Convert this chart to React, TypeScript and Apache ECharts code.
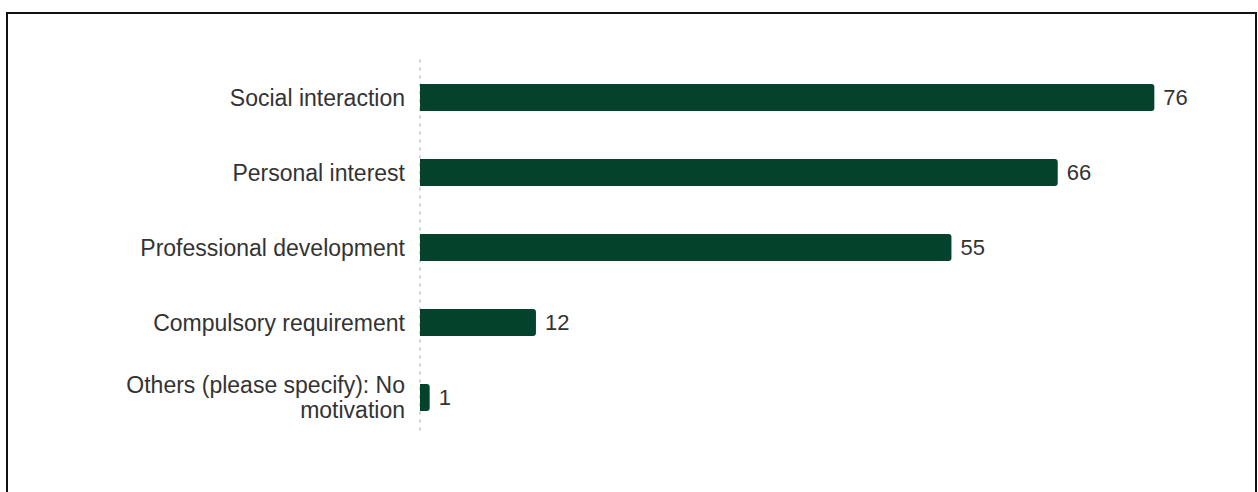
import React, { useEffect, useRef } from "react";
import * as echarts from "echarts";

const categories: string[] = [
  "Social interaction",
  "Personal interest",
  "Professional development",
  "Compulsory requirement",
  "Others (please specify): No motivation",
];
const counts: number[] = [76, 66, 55, 12, 1];

const BAR_COLOR = "#05422b";
const TEXT_COLOR = "#333333";
const FONT = "'Liberation Sans', Arial, Helvetica, sans-serif";
const WRAP_CHARS = 28;

function wrapLabel(text: string): string {
  const words = text.split(" ");
  const lines: string[] = [];
  let cur = "";
  for (const w of words) {
    const next = cur ? cur + " " + w : w;
    if (next.length > WRAP_CHARS && cur) {
      lines.push(cur);
      cur = w;
    } else {
      cur = next;
    }
  }
  if (cur) lines.push(cur);
  return lines.join("\n");
}

export default function App() {
  const ref = useRef<HTMLDivElement>(null);

  useEffect(() => {
    if (!ref.current) return;
    const chart = echarts.init(ref.current, undefined, { renderer: "svg" });
    chart.setOption({
      animation: false,
      backgroundColor: "transparent",
      textStyle: { fontFamily: FONT },
      grid: { left: 420, top: 60, width: 773, height: 375, containLabel: false },
      xAxis: {
        type: "value",
        min: 0,
        max: 80,
        show: false,
        splitLine: { show: false },
      },
      yAxis: {
        type: "category",
        inverse: true,
        data: categories,
        axisTick: { show: false },
        axisLine: {
          show: true,
          lineStyle: { color: "#d6d6d6", type: [2, 6], width: 2 },
        },
        axisLabel: {
          color: TEXT_COLOR,
          fontSize: 23,
          fontFamily: FONT,
          margin: 15,
          lineHeight: 25,
          align: "right",
          formatter: (v: string) => wrapLabel(v),
        },
        splitLine: { show: false },
      },
      series: [
        {
          type: "bar",
          data: counts,
          barWidth: 27,
          itemStyle: { color: BAR_COLOR, borderRadius: [0, 3, 3, 0] },
          label: {
            show: true,
            position: "right",
            distance: 9,
            color: TEXT_COLOR,
            fontSize: 22,
            fontFamily: FONT,
          },
        },
      ],
    });
    return () => chart.dispose();
  }, []);

  return (
    <div
      style={{
        position: "fixed",
        left: 0,
        top: 0,
        width: 1258,
        height: 492,
        background: "#ffffff",
        overflow: "hidden",
      }}
    >
      <div
        style={{
          position: "absolute",
          left: 6,
          top: 12,
          width: 1251,
          height: 520,
          border: "2px solid #111111",
          boxSizing: "border-box",
        }}
      />
      <div
        ref={ref}
        style={{ position: "absolute", left: 0, top: 0, width: 1258, height: 492 }}
      />
    </div>
  );
}
